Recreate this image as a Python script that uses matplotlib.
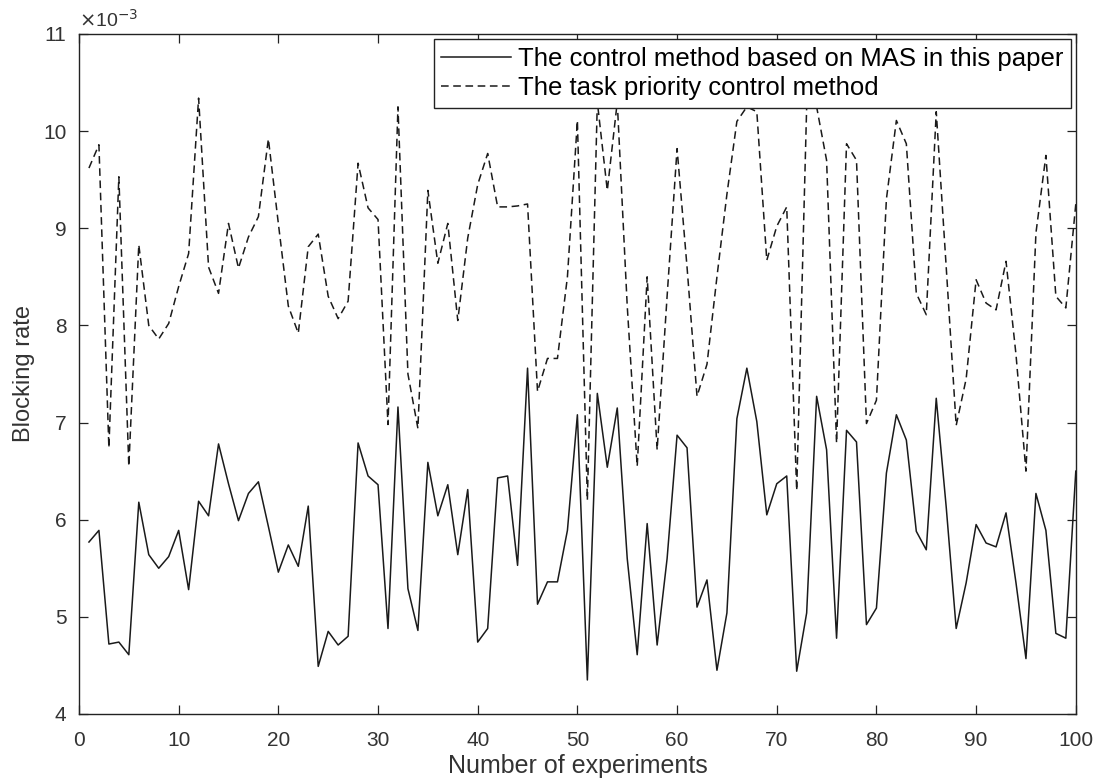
import numpy as np
import matplotlib
matplotlib.use("Agg")
import matplotlib.pyplot as plt
from matplotlib.ticker import FuncFormatter

# blocking rate values, in units of 1e-3
experiments = np.arange(1, 101)

mas_method = [
    5.77, 5.89, 4.72, 4.74, 4.61, 6.18, 5.64, 5.50, 5.62, 5.89,
    5.28, 6.19, 6.04, 6.78, 6.37, 5.99, 6.27, 6.39, 5.93, 5.46,
    5.74, 5.52, 6.14, 4.49, 4.85, 4.71, 4.80, 6.79, 6.45, 6.36,
    4.88, 7.16, 5.29, 4.86, 6.59, 6.04, 6.36, 5.64, 6.31, 4.74,
    4.88, 6.43, 6.45, 5.53, 7.56, 5.13, 5.36, 5.36, 5.89, 7.08,
    4.35, 7.30, 6.54, 7.15, 5.60, 4.61, 5.96, 4.71, 5.60, 6.87,
    6.74, 5.10, 5.38, 4.45, 5.04, 7.04, 7.56, 7.01, 6.05, 6.37,
    6.45, 4.44, 5.04, 7.27, 6.72, 4.78, 6.92, 6.80, 4.92, 5.09,
    6.48, 7.08, 6.82, 5.88, 5.69, 7.25, 6.13, 4.88, 5.35, 5.95,
    5.76, 5.72, 6.07, 5.35, 4.57, 6.27, 5.89, 4.83, 4.78, 6.50,
]

priority_method = [
    9.62, 9.86, 6.74, 9.53, 6.55, 8.83, 8.00, 7.86, 8.02, 8.40,
    8.74, 10.34, 8.60, 8.33, 9.05, 8.59, 8.91, 9.12, 9.92, 9.05,
    8.20, 7.92, 8.81, 8.94, 8.30, 8.07, 8.25, 9.67, 9.21, 9.09,
    6.98, 10.25, 7.50, 6.94, 9.39, 8.64, 9.05, 8.05, 8.90, 9.45,
    9.77, 9.22, 9.22, 9.23, 9.25, 7.32, 7.66, 7.66, 8.50, 10.11,
    6.20, 10.30, 9.39, 10.30, 8.20, 6.55, 8.50, 6.72, 8.30, 9.82,
    8.60, 7.27, 7.60, 8.50, 9.35, 10.10, 10.25, 10.20, 8.67, 9.02,
    9.22, 6.30, 10.25, 10.25, 9.70, 6.79, 9.87, 9.70, 6.99, 7.23,
    9.30, 10.11, 9.87, 8.33, 8.11, 10.20, 8.60, 6.97, 7.45, 8.47,
    8.23, 8.16, 8.66, 7.70, 6.50, 8.95, 9.75, 8.30, 8.18, 9.25,
]

labels = ["The control method based on MAS in this paper",
          "The task priority control method"]

plt.rcParams["font.family"] = ["Liberation Sans", "DejaVu Sans"]

fig = plt.figure(figsize=(11, 7.78), dpi=100)
ax = fig.add_axes([0.0718, 0.0823, 0.9062, 0.874])

scale = 1e-3
ax.plot(experiments, np.array(mas_method) * scale, "-", color="#1a1a1a",
        lw=1.1, label=labels[0])
ax.plot(experiments, np.array(priority_method) * scale, "--", color="#1a1a1a",
        lw=1.1, dashes=(5, 3), label=labels[1])

ax.set_xlim(0, 100)
ax.set_ylim(4e-3, 11e-3)
ax.set_xticks(np.arange(0, 101, 10))
ax.set_yticks(np.arange(4, 12) * scale)
ax.yaxis.set_major_formatter(FuncFormatter(lambda v, p: f"{v / scale:.0f}"))
ax.text(0.0, 1.005, r"$\times$10$^{-3}$", transform=ax.transAxes,
        fontsize=14, color="#333333", ha="left", va="bottom")

ax.tick_params(direction="in", length=6.5, width=0.9, top=True, right=True,
               labelsize=15, colors="#222222", labelcolor="#333333")
ax.tick_params(axis="x", pad=12)
ax.tick_params(axis="y", pad=9)
for sp in ax.spines.values():
    sp.set_linewidth(1.0)
    sp.set_color("#222222")

ax.set_xlabel("Number of experiments", fontsize=18, color="#333333", labelpad=3)
ax.set_ylabel("Blocking rate", fontsize=17, color="#333333", labelpad=6)

leg = ax.legend(loc="upper right", fontsize=18.5, frameon=True, fancybox=False,
                borderpad=0.3, handlelength=2.7, handletextpad=0.27,
                labelspacing=0.2, borderaxespad=0.2)
leg.get_frame().set_edgecolor("#222222")
leg.get_frame().set_linewidth(1.0)
leg.get_frame().set_alpha(1.0)

fig.savefig("out.png", dpi=100)
